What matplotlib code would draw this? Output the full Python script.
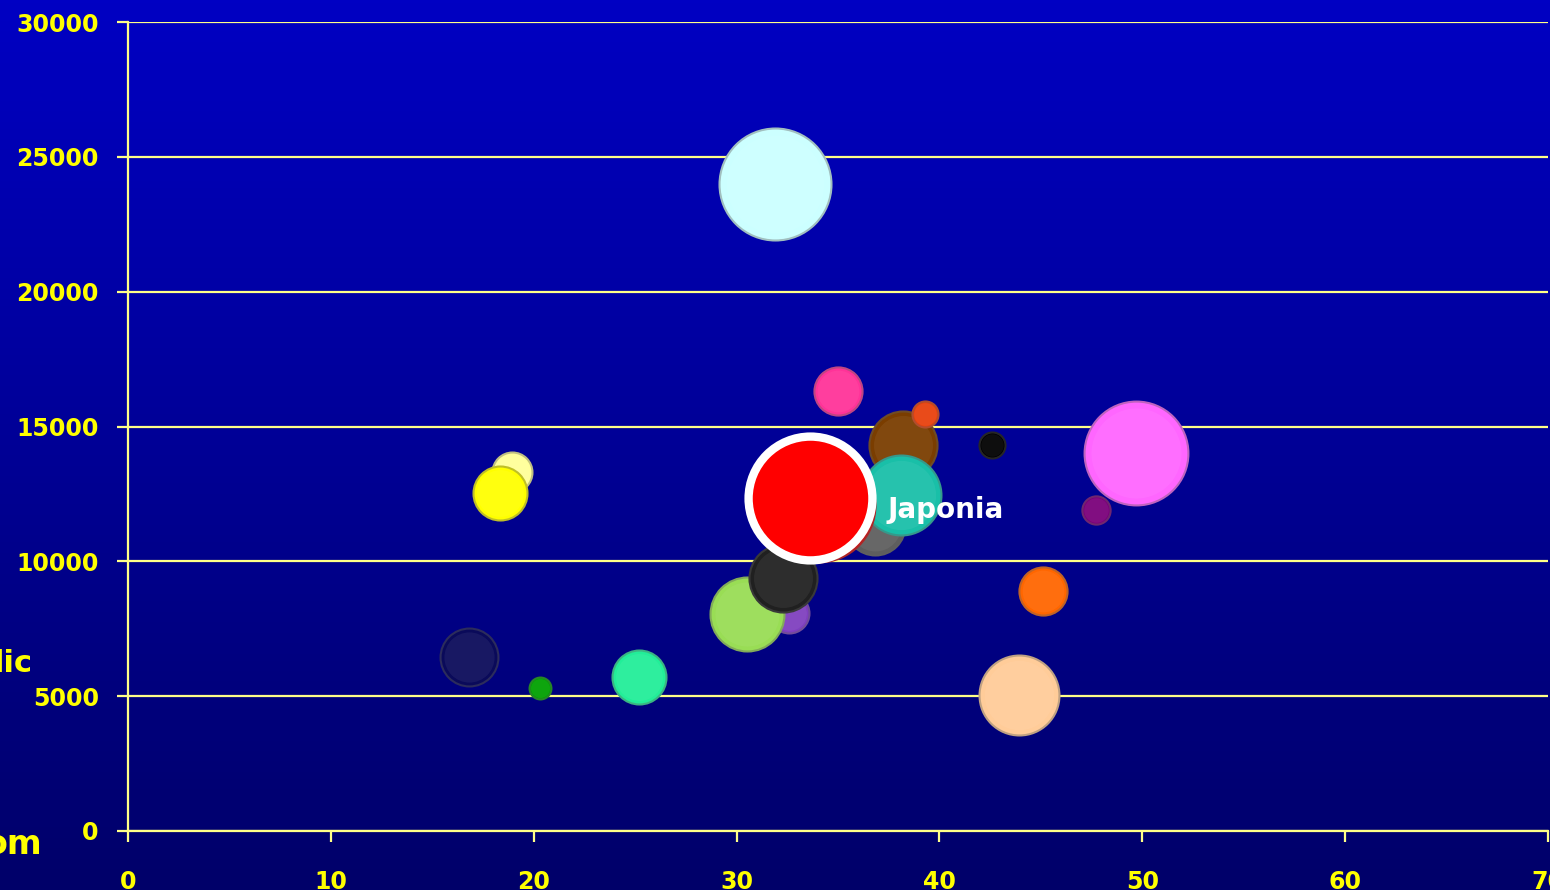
import matplotlib
matplotlib.use('Agg')
import matplotlib.pyplot as plt
import numpy as np
from matplotlib.colors import to_rgb

# bubble data (x, y, bubble size)
x_vals = [31.9, 35.0, 49.7, 36.8, 38.2, 38.1, 39.3, 42.6, 47.7, 45.1, 43.9,
          34.0, 32.6, 30.5, 32.3, 18.95, 18.35, 16.8, 20.3, 25.2]
y_vals = [24000, 16300, 14000, 11350, 14300, 12450, 15450, 14300, 11900, 8900, 5050,
          12100, 8100, 8050, 9400, 13300, 12550, 6450, 5300, 5700]
sizes = [314, 58, 270, 90, 116, 160, 17, 17, 20, 58, 160,
         325, 40, 137, 116, 40, 73, 84, 12, 73]
colors = ['#CCFFFF', '#FF3399', '#FF66FF', '#5E5E5E', '#7A3D00', '#19BFA8', '#E8400C',
          '#000000', '#7A007A', '#FF6600', '#FFCC99', '#E00000', '#7F3FBF', '#99DD55',
          '#202020', '#FFFF99', '#FFFF00', '#0A0A5A', '#00A000', '#22EE99']

# highlighted country
jap_x = [33.6]
jap_y = [12350]
jap_size = [384]
jap_label = 'Japonia'

xticks = list(range(0, 71, 10))
yticks = list(range(0, 30001, 5000))

fig = plt.figure(figsize=(15.5, 8.9), dpi=100)

# gradient background
bg = fig.add_axes([0, 0, 1, 1])
top = np.array([0, 0, 195]) / 255
bot = np.array([0, 0, 105]) / 255
t = np.linspace(0, 1, 256)[:, None]
grad = (top[None, :] * (1 - t) + bot[None, :] * t)[:, None, :]
bg.imshow(grad, aspect='auto', extent=[0, 1, 0, 1])
bg.axis('off')

ax = fig.add_axes([128 / 1550, 59 / 890, 1420 / 1550, 809 / 890])
ax.set_facecolor('none')
ax.set_xlim(0, 70)
ax.set_ylim(0, 30000)

k = 20.7
for i in range(len(x_vals)):
    c = np.array(to_rgb(colors[i]))
    edge = np.clip(c * 0.6 + 0.15, 0, 1)
    ax.scatter(x_vals[i], y_vals[i], s=sizes[i] * k, color=c,
               edgecolors=[edge], linewidths=1.5, zorder=3 + i * 0.01)
    # soft highlight for the 3D look
    ax.scatter(x_vals[i], y_vals[i], s=sizes[i] * k * 0.75, color='white',
               alpha=0.06, linewidths=0, zorder=3 + i * 0.01 + 0.005)

ax.scatter(jap_x, jap_y, s=np.array(jap_size) * k, color='#FF0000',
           edgecolors='white', linewidths=6, zorder=5)
ax.text(37.45, 11900, jap_label, color='white', fontsize=20, fontweight='bold',
        ha='left', va='center', zorder=6)

ax.set_xticks(xticks)
ax.set_yticks(yticks)
ax.grid(axis='y', color='#FFFF88', linewidth=1.6, zorder=1)
ax.grid(axis='x', visible=False)
for s in ['top', 'right']:
    ax.spines[s].set_visible(False)
for s in ['left', 'bottom']:
    ax.spines[s].set_color('#FFFF88')
    ax.spines[s].set_linewidth(1.6)
ax.tick_params(axis='both', color='#FFFF88', length=8, width=1.6,
               labelcolor='#FFFF00', labelsize=17)
ax.tick_params(axis='y', pad=13)
ax.tick_params(axis='x', pad=20)
for lab in ax.get_xticklabels() + ax.get_yticklabels():
    lab.set_fontweight('bold')

# cut-off axis titles at the left edge
fig.text(33 / 1550, 1 - 663 / 890, 'lic', ha='right', va='center',
         color='#FFFF00', fontsize=22, fontweight='bold')
fig.text(42 / 1550, 1 - 845 / 890, 'om', ha='right', va='center',
         color='#FFFF00', fontsize=24, fontweight='bold')

fig.savefig('out.png', dpi=100)
